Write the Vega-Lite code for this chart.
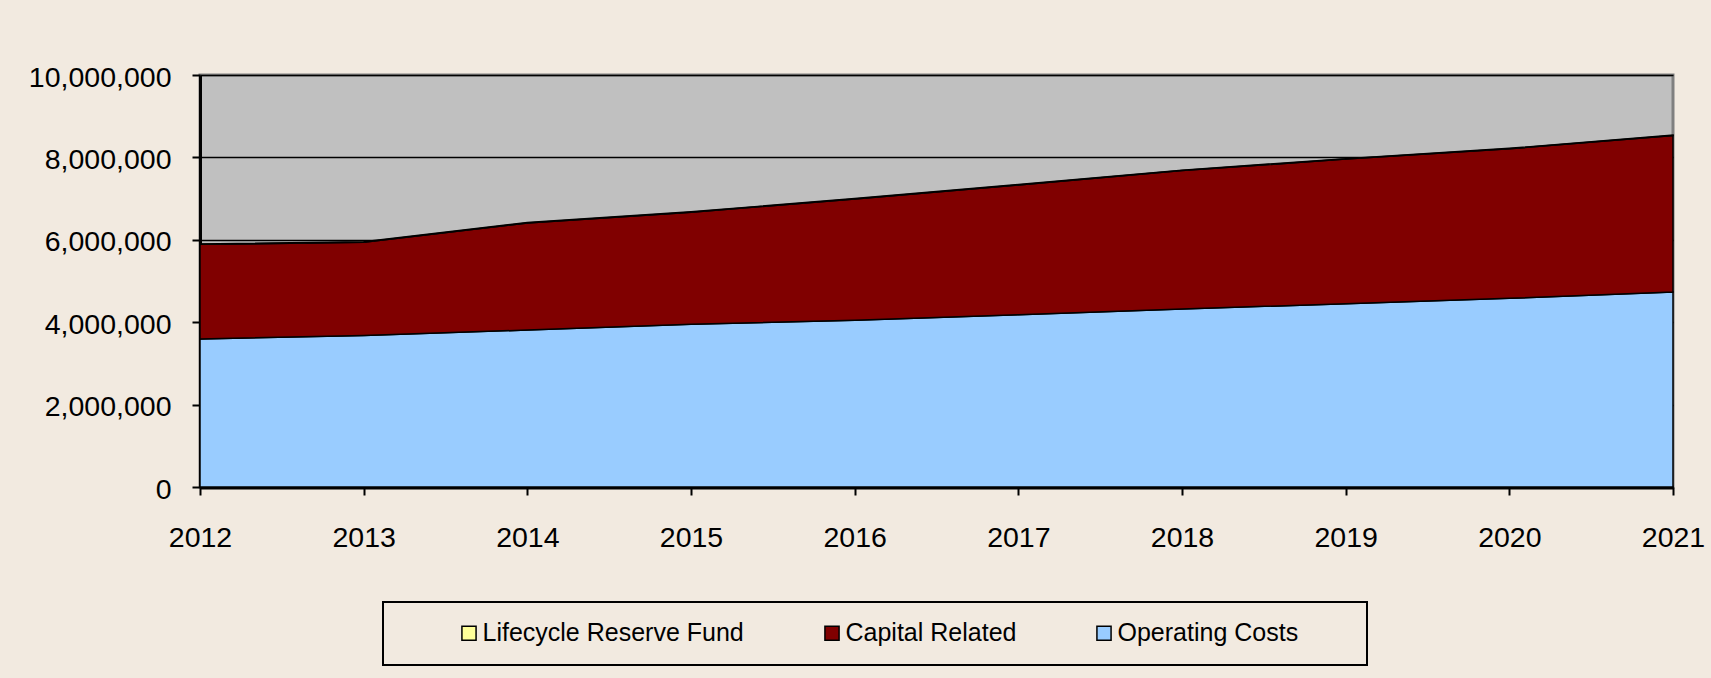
{
  "$schema": "https://vega.github.io/schema/vega-lite/v6.json",
  "width": 1473,
  "height": 412,
  "autosize": {"type": "none"},
  "padding": {"left": 200, "top": 75, "right": 38, "bottom": 191},
  "background": "#F2EAE0",
  "config": {
    "font": "Liberation Sans",
    "view": {"fill": "#C0C0C0", "stroke": "#808080", "strokeWidth": 3},
    "legend": {"strokeWidth": 2}
  },
  "data": {
    "values": [
      {"year": 2012, "series": "Operating Costs", "rank": 1, "value": 3590000},
      {"year": 2013, "series": "Operating Costs", "rank": 1, "value": 3680000},
      {"year": 2014, "series": "Operating Costs", "rank": 1, "value": 3810000},
      {"year": 2015, "series": "Operating Costs", "rank": 1, "value": 3950000},
      {"year": 2016, "series": "Operating Costs", "rank": 1, "value": 4050000},
      {"year": 2017, "series": "Operating Costs", "rank": 1, "value": 4180000},
      {"year": 2018, "series": "Operating Costs", "rank": 1, "value": 4320000},
      {"year": 2019, "series": "Operating Costs", "rank": 1, "value": 4450000},
      {"year": 2020, "series": "Operating Costs", "rank": 1, "value": 4580000},
      {"year": 2021, "series": "Operating Costs", "rank": 1, "value": 4730000},
      {"year": 2012, "series": "Capital Related", "rank": 2, "value": 2300000},
      {"year": 2013, "series": "Capital Related", "rank": 2, "value": 2260000},
      {"year": 2014, "series": "Capital Related", "rank": 2, "value": 2600000},
      {"year": 2015, "series": "Capital Related", "rank": 2, "value": 2720000},
      {"year": 2016, "series": "Capital Related", "rank": 2, "value": 2940000},
      {"year": 2017, "series": "Capital Related", "rank": 2, "value": 3150000},
      {"year": 2018, "series": "Capital Related", "rank": 2, "value": 3360000},
      {"year": 2019, "series": "Capital Related", "rank": 2, "value": 3510000},
      {"year": 2020, "series": "Capital Related", "rank": 2, "value": 3630000},
      {"year": 2021, "series": "Capital Related", "rank": 2, "value": 3800000},
      {"year": 2012, "series": "Lifecycle Reserve Fund", "rank": 3, "value": 10000},
      {"year": 2013, "series": "Lifecycle Reserve Fund", "rank": 3, "value": 10000},
      {"year": 2014, "series": "Lifecycle Reserve Fund", "rank": 3, "value": 10000},
      {"year": 2015, "series": "Lifecycle Reserve Fund", "rank": 3, "value": 10000},
      {"year": 2016, "series": "Lifecycle Reserve Fund", "rank": 3, "value": 10000},
      {"year": 2017, "series": "Lifecycle Reserve Fund", "rank": 3, "value": 10000},
      {"year": 2018, "series": "Lifecycle Reserve Fund", "rank": 3, "value": 10000},
      {"year": 2019, "series": "Lifecycle Reserve Fund", "rank": 3, "value": 10000},
      {"year": 2020, "series": "Lifecycle Reserve Fund", "rank": 3, "value": 10000},
      {"year": 2021, "series": "Lifecycle Reserve Fund", "rank": 3, "value": 10000}
    ]
  },
  "mark": {"type": "area", "stroke": "black", "strokeWidth": 1.5, "opacity": 1, "fillOpacity": 1},
  "encoding": {
    "x": {
      "field": "year",
      "type": "quantitative",
      "scale": {"domain": [2012, 2021], "nice": false, "zero": false},
      "axis": {
        "title": null,
        "values": [2012, 2013, 2014, 2015, 2016, 2017, 2018, 2019, 2020, 2021],
        "format": "d",
        "grid": false,
        "domainColor": "black",
        "domainWidth": 4,
        "tickColor": "black",
        "tickWidth": 2,
        "tickSize": 8,
        "labelFontSize": 28.5,
        "labelColor": "black",
        "labelPadding": 28,
        "labelFlush": false,
        "labelOverlap": false
      }
    },
    "y": {
      "field": "value",
      "type": "quantitative",
      "stack": "zero",
      "scale": {"domain": [0, 10000000], "nice": false},
      "axis": {
        "title": null,
        "values": [0, 2000000, 4000000, 6000000, 8000000, 10000000],
        "format": ",d",
        "grid": true,
        "gridColor": "black",
        "gridWidth": 1.5,
        "domainColor": "black",
        "domainWidth": 3,
        "tickColor": "black",
        "tickWidth": 2,
        "tickSize": 8,
        "labelFontSize": 28.5,
        "labelColor": "black",
        "labelPadding": 21,
        "labelOffset": 2,
        "labelFlush": false,
        "labelOverlap": false
      }
    },
    "color": {
      "field": "series",
      "type": "nominal",
      "scale": {
        "domain": ["Lifecycle Reserve Fund", "Capital Related", "Operating Costs"],
        "range": ["#FFFF99", "#800000", "#99CCFF"]
      },
      "legend": {
        "title": "\u00a0",
        "titleOrient": "left",
        "titlePadding": 55,
        "titleFontSize": 24,
        "orient": "none",
        "direction": "horizontal",
        "legendX": 183,
        "legendY": 527,
        "padding": 18.5,
        "strokeColor": "black",
        "fillColor": "#F2EAE0",
        "symbolType": "square",
        "symbolSize": 200,
        "symbolStrokeColor": "black",
        "symbolStrokeWidth": 1.5,
        "symbolOpacity": 1,
        "labelFontSize": 25,
        "labelColor": "black",
        "labelOffset": 1,
        "labelLimit": 500,
        "labelExpr": "datum.label == 'Operating Costs' ? datum.label + '\u00a0\u00a0\u2800\u2800' : datum.label",
        "columnPadding": 75
      }
    },
    "order": {"field": "rank", "type": "quantitative"}
  }
}
